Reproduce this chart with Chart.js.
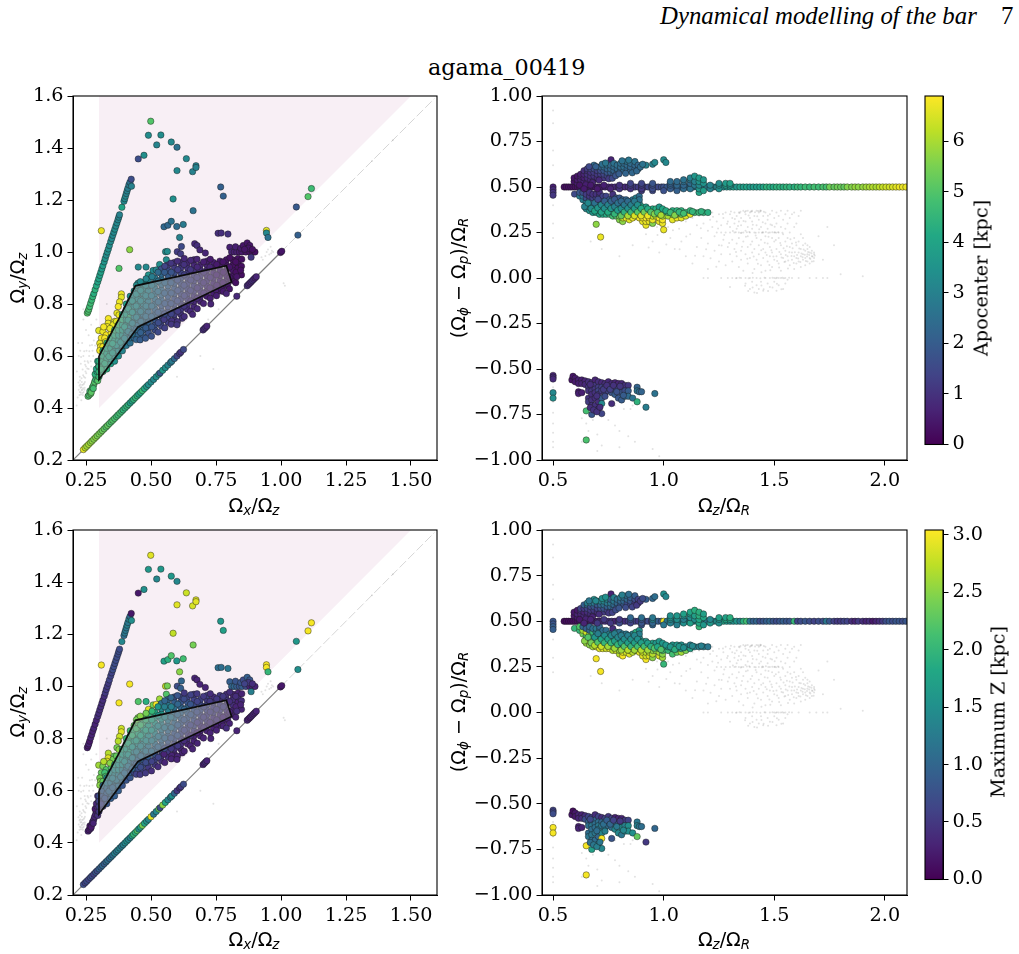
<!DOCTYPE html>
<html><head><meta charset="utf-8">
<title>agama_00419</title>
<script src="https://cdn.jsdelivr.net/npm/chart.js@4"></script>
<style>
html,body{margin:0;padding:0;background:#fff;width:1019px;height:954px;overflow:hidden}
canvas{position:absolute}
.t{position:absolute;white-space:nowrap;color:#000;line-height:1}
.m{font:19.2px "DejaVu Sans"}
.s{font:19.2px "DejaVu Serif"}
.m sub{font-size:70%;font-style:italic;line-height:0;vertical-align:-.28em}
.v{transform:translate(-50%,-50%) rotate(-90deg)}
.h{transform:translate(-50%,-50%)}
</style></head><body>
<div class="t" style="left:660px;top:2px;font:italic 24.8px 'Liberation Serif'">Dynamical modelling of the bar</div>
<div class="t" style="left:1001px;top:2px;font:24.8px 'Liberation Serif'">7</div>
<div class="t" style="left:428px;top:54px;font:22.3px 'DejaVu Serif'">agama_00419</div>
<canvas id="a" width="457" height="424" style="left:0;top:76px"></canvas>
<canvas id="b" width="447" height="424" style="left:470px;top:76px"></canvas>
<canvas id="cb1" width="114" height="384" style="left:905px;top:76px"></canvas>
<canvas id="c" width="457" height="425" style="left:0;top:510px"></canvas>
<canvas id="d" width="447" height="425" style="left:470px;top:510px"></canvas>
<canvas id="cb2" width="114" height="385" style="left:905px;top:510px"></canvas>
<div class="t m h" style="left:254px;top:505px">Ω<sub>x</sub>/Ω<sub>z</sub></div>
<div class="t m h" style="left:724px;top:505px">Ω<sub>z</sub>/Ω<sub>R</sub></div>
<div class="t m h" style="left:254px;top:939px">Ω<sub>x</sub>/Ω<sub>z</sub></div>
<div class="t m h" style="left:724px;top:939px">Ω<sub>z</sub>/Ω<sub>R</sub></div>
<div class="t m v" style="left:17px;top:278px">Ω<sub>y</sub>/Ω<sub>z</sub></div>
<div class="t m v" style="left:17px;top:712px">Ω<sub>y</sub>/Ω<sub>z</sub></div>
<div class="t m v" style="left:458px;top:278px">(Ω<sub>ϕ</sub> − Ω<sub>p</sub>)/Ω<sub>R</sub></div>
<div class="t m v" style="left:458px;top:712px">(Ω<sub>ϕ</sub> − Ω<sub>p</sub>)/Ω<sub>R</sub></div>
<div class="t s v" style="left:981px;top:278px">Apocenter [kpc]</div>
<div class="t s v" style="left:998px;top:712px">Maximum Z [kpc]</div>
<script>
// Tick positions
const leftXTicks=[.25,.5,.75,1,1.25,1.5];
const leftYTicks=[.2,.4,.6,.8,1,1.2,1.4,1.6];
const rightXTicks=[.5,1,1.5,2];
const rightYTicks=[-1,-.75,-.5,-.25,0,.25,.5,.75,1];
const apoTicks=[0,1,2,3,4,5,6];
const zmaxTicks=[0,.5,1,1.5,2,2.5,3];
const apoMax=6.89, zmaxMax=3.04;

// Resonance regions in the (x/z, y/z) plane
const wedge=[[.3,.4],[.3,1.6],[1.5,1.6]];
const barBox=[[.3,.6],[.375,.74],[.44,.87],[.79,.947],[.81,.885],[.45,.712],[.3,.51],[.3,.6]];
const diagDark=[[.2,.2],[1,1]];
const diagPale=[[1,1],[1.59,1.59]];

// Orbit families: [x, y, apocenter, zmax]
const steepOrbits=[[.255,.765,5,.25],[.258,.772,4.9,.2],[.261,.78,4.9,.3],[.264,.79,4.7,.2],[.268,.803,4.7,.3],[.272,.815,4.6,.3],[.276,.828,4.5,.3],[.28,.84,4.3,.3],[.285,.855,4.4,.3],[.29,.87,4.2,.3],[.295,.885,4,.4],[.299,.897,4,.4],[.303,.91,3.9,.4],[.307,.922,3.9,.4],[.311,.935,3.7,.4],[.315,.947,3.7,.4],[.32,.962,3.5,.4],[.324,.975,3.5,.5],[.328,.988,3.3,.5],[.332,1,3.4,.5],[.336,1.012,3.4,.5],[.34,1.025,3.3,.6],[.345,1.04,3.3,.6],[.349,1.052,3.2,.6],[.353,1.064,3.2,.7],[.357,1.076,3.2,.7],[.361,1.088,3.3,.7],[.365,1.1,3.2,.7],[.369,1.112,3.2,.7],[.373,1.124,3.1,.7],[.376,1.134,3.1,.7],[.379,1.143,3,.7],[.388,1.172,4,1.4],[.396,1.195,3.2,1.1],[.399,1.205,3.2,1.2],[.402,1.215,3.2,1.2],[.405,1.225,3,1.2],[.408,1.235,3,1.3],[.411,1.245,2.9,1.2],[.415,1.258,2.8,1.3],[.419,1.268,2.6,1.1],[.425,1.253,3,1.5],[.424,1.28,1.6,.2]];

// Orbits on the x = y diagonal: [x, apocenter, zmax]
const diagOrbits=[[.24,6.6,.7],[.247,6.2,.6],[.253,5.9,.7],[.26,6,.6],[.267,5.8,.7],[.273,5.7,.7],[.28,5.6,.6],[.287,5.7,.8],[.293,5.5,.7],[.3,5.5,.9],[.307,5.4,.9],[.313,5.3,1],[.32,5.2,.9],[.327,5,1],[.333,5.2,1.1],[.34,5,1],[.347,4.9,1.2],[.353,5,1.1],[.36,4.9,1.3],[.367,4.8,1.2],[.373,4.7,1.3],[.38,4.8,1.3],[.387,4.6,1.2],[.393,4.5,1.3],[.4,4.4,1.4],[.407,4.5,1.5],[.413,4.4,1.4],[.42,3.9,1.3],[.427,4,1.7],[.433,4.4,2],[.44,4.5,1.9],[.447,4.4,2.2],[.453,4,1.5],[.46,4.2,1.7],[.467,4.6,2.4],[.475,4.2,1.8],[.483,3.7,1.6],[.49,3.4,1.4],[.5,3.3,2.9],[.51,3.2,1.2],[.52,3.3,1.4],[.53,3.4,2.3],[.535,2,.7],[.545,3.6,2.5],[.555,3.3,1.8],[.565,3.1,1.4],[.575,2.6,1.2],[.58,2.8,1.5],[.59,2.3,1],[.6,1.4,.5],[.61,1.2,.4],[.615,1,.5],[.625,1.5,.7],[.7,.9,.3],[.705,.9,.3],[.71,.8,.4],[.715,.7,.3],[.83,.8,.3],[.87,.9,.3],[.875,.8,.3],[.88,.7,.2],[.885,.7,.3],[.89,.9,.3],[.895,.8,.3],[.9,.6,.3],[.905,.7,.3],[.998,.4,.2],[1.003,.4,.2],[1.065,2.1,1.5]];

const scatteredOrbits=[[.499,1.503,5,2.9],[.49,1.449,3.3,1.6],[.538,1.45,3.3,1.6],[.522,1.412,3.1,1.4],[.578,1.423,3.2,1.6],[.6,1.403,2.6,1.4],[.473,1.372,3.4,1.5],[.451,1.358,1.6,.2],[.636,1.359,3.2,2.8],[.6,1.313,3.2,2.9],[.66,1.309,3,2.85],[.673,1.332,3,2.9],[.673,1.325,3,2.9],[.768,1.25,2.1,1.6],[.778,1.215,2.1,1.7],[.585,1.204,3.4,2.75],[.662,1.159,2.6,2.4],[.309,1.082,6.7,3],[1.059,1.173,1.9,1.6],[1.104,1.213,5,3],[1.117,1.244,4.7,3],[.944,1.083,6.6,3],[.944,1.073,3.2,3],[.95,1.056,2.6,2],[.55,1.097,2.3,1.7],[.565,1.103,2.3,1.9],[.578,1.118,2.6,2.2],[.599,1.098,2.4,1.6],[.624,1.106,2.8,2.1],[.61,1.056,3,2.5],[.617,1.021,1.5,1],[.418,1.009,5.7,3],[.377,.937,5,3],[.556,1.001,3.3,2.8],[.563,1.002,3.3,2.4],[.601,1.001,1.2,.7],[.614,.993,1.2,.9],[.668,1.032,.8,.3],[.677,1.025,.9,.3],[.688,1.008,.8,.3],[.709,.996,.7,.3],[.758,1.072,.9,1.1],[.77,1.073,.9,1.1],[.796,1.069,1,1.2],[.803,1.018,.6,.9],[.81,1,.7,1],[.82,1,.6,1],[.83,1,.6,.9],[.84,1,.5,.8],[.85,1,.5,.9],[.865,1,.4,.7],[.88,1,.3,.3],[.89,1,.3,.3],[.9,1,.3,.3],[.825,1.02,.6,.8],[.845,1.015,.5,.8],[.855,1.025,.4,.7],[.87,1.035,.4,.9],[.88,1.025,.4,.8],[.875,1.015,.4,.5],[.86,1.01,.4,.6],[.89,1.01,.3,.4],[.885,.98,1.1,1.3],[.451,.942,3.2,2.2],[.481,.942,3.2,1.9],[.49,.912,3.5,2.9],[.533,.952,3.4,2.6],[.508,.929,3.2,2.4],[.52,.931,3.2,3],[.559,.97,3.3,2.2]];

const yellowOrbits=[[.386,.839,6.7,2.8],[.386,.826,6.6,2.9],[.379,.808,6.7,2.8],[.374,.79,6.8,2.7],[.369,.765,6.7,2.4],[.377,.758,6.7,2.5],[.36,.733,6.6,2.3],[.336,.744,6.8,2.7],[.335,.726,6.7,2.9],[.354,.72,6.7,2.4],[.331,.713,6.8,2.9],[.299,.698,6.6,2.6],[.315,.694,6.7,2.4],[.328,.681,6.8,2.2],[.309,.669,6.8,2.3],[.322,.669,6.8,2.1],[.303,.649,6.7,2.4],[.306,.636,6.8,2.5],[.315,.636,6.8,2.3],[.303,.621,6.8,2.5],[.347,.688,6.7,2.2],[.367,.733,6.6,2.3],[.342,.706,6.7,2.5],[.326,.655,6.7,2.2],[.318,.712,6.8,2.7]];

const tailOrbits=[[.258,.445,5,.3],[.262,.45,4.9,.2],[.268,.455,5.1,.3],[.265,.465,4.8,.2],[.272,.47,4.9,.3],[.275,.48,5,.3],[.27,.46,5.1,.2],[.28,.49,4.9,.3],[.283,.5,5,.3],[.278,.475,4.8,.3],[.287,.51,4.6,.3],[.29,.52,4.8,.3],[.285,.53,4.4,.2],[.292,.54,4.2,.3],[.295,.505,5,.4],[.29,.55,4,.3],[.298,.56,4.2,.4],[.295,.58,4,.4]];

// Bar-supporting cloud, listed column by column
const barOrbits=[[.3,.52,4.6,.5],[.3,.54,4.5,.5],[.3,.56,4.4,.6],[.3,.58,4.3,.7],
[.315,.54,4.4,.6],[.315,.56,4.5,.6],[.315,.58,4.4,.8],[.315,.6,4.3,.9],[.315,.62,4.4,1.1],
[.33,.55,4.3,.8],[.33,.57,4.2,.8],[.33,.59,4.2,.9],[.33,.61,4.1,1],[.33,.63,4.2,1.2],[.33,.65,4.4,1.4],
[.345,.57,3.9,.9],[.345,.59,3.9,1],[.345,.61,4,1],[.345,.63,4,1.2],[.345,.65,4.2,1.3],[.345,.67,4.4,1.5],
[.36,.58,3.5,.9],[.36,.6,3.6,1],[.36,.62,3.7,1.1],[.36,.64,3.8,1.2],[.36,.66,4,1.4],[.36,.68,4.3,1.5],[.36,.7,4.6,1.7],
[.375,.6,3.3,.9],[.375,.62,3.4,1.1],[.375,.64,3.6,1.2],[.375,.66,3.8,1.3],[.375,.68,3.9,1.5],[.375,.7,4.3,1.6],[.375,.72,4.6,1.8],
[.39,.62,3.1,.8],[.39,.64,3.2,1],[.39,.66,3.4,1.2],[.39,.68,3.6,1.3],[.39,.7,3.8,1.5],[.39,.72,4,1.6],[.39,.74,4.4,1.7],[.39,.76,4.2,1.9],
[.405,.64,2.7,.8],[.405,.66,2.9,1],[.405,.68,3.1,1.1],[.405,.7,3.4,1.3],[.405,.72,3.6,1.5],[.405,.74,3.8,1.6],[.405,.76,3.9,1.7],[.405,.78,3.8,1.9],[.405,.8,3.9,2],
[.42,.65,2.5,.8],[.42,.67,2.6,.9],[.42,.69,2.8,1.1],[.42,.71,3,1.2],[.42,.73,3.3,1.4],[.42,.75,4.5,1.8],[.42,.77,3.6,1.7],[.42,.79,3.6,1.8],[.42,.81,3.5,2],[.42,.83,3.4,2.1],
[.435,.67,2.3,.7],[.435,.69,2.5,.9],[.435,.71,2.6,1],[.435,.73,2.9,1.2],[.435,.75,3.1,1.4],[.435,.77,3.4,1.6],[.435,.79,3.3,1.7],[.435,.81,3.5,1.9],[.435,.83,3.4,2],[.435,.85,3.3,2.3],
[.45,.68,2.2,.7],[.45,.7,2.3,.9],[.45,.72,2.5,1],[.45,.74,2.7,1.2],[.45,.76,2.8,1.4],[.45,.78,3,1.5],[.45,.8,3.2,1.7],[.45,.82,3.3,1.9],[.45,.84,3.4,2],[.45,.86,3.4,2.2],[.45,.88,3.2,2.4],
[.47,.675,2,.6],[.47,.7,2.1,.7],[.47,.72,2.3,.9],[.47,.74,2.4,1.1],[.47,.76,2.6,1.3],[.47,.78,2.8,1.4],[.47,.8,3,1.6],[.47,.82,3.2,1.7],[.47,.84,3.2,1.8],[.47,.86,3.3,2],[.47,.88,3.3,2.3],
[.49,.69,1.8,.5],[.49,.71,1.9,.7],[.49,.73,2.1,.9],[.49,.75,2.3,1],[.49,.77,2.4,1.2],[.49,.79,2.7,1.4],[.49,.81,2.8,1.5],[.49,.83,2.9,1.6],[.49,.85,3,1.7],[.49,.87,3,1.8],[.49,.89,3.1,2],
[.515,.7,1.6,.5],[.515,.72,1.7,.6],[.515,.74,1.9,.8],[.515,.76,2.1,1],[.515,.78,2.2,1.1],[.515,.8,2.4,1.3],[.515,.82,2.5,1.4],[.515,.84,2.6,1.5],[.515,.86,2.7,1.6],[.515,.88,2.8,1.7],[.515,.9,2.7,1.8],
[.54,.715,1.4,.4],[.54,.735,1.5,.5],[.54,.755,1.6,.7],[.54,.775,1.8,.9],[.54,.795,1.9,1],[.54,.815,2.1,1.1],[.54,.835,2.2,1.2],[.54,.855,2.3,1.3],[.54,.875,2.4,1.5],[.54,.895,2.5,1.6],[.54,.915,2.3,1.4],[.54,.935,1.7,1.1],
[.565,.73,1.3,.4],[.565,.75,1.4,.5],[.565,.77,1.5,.6],[.565,.79,1.6,.8],[.565,.81,1.8,.9],[.565,.83,1.9,1],[.565,.85,2,1.1],[.565,.87,2.1,1.2],[.565,.89,2.1,1.3],[.565,.91,2,1.3],[.565,.93,1.6,1.2],[.565,.95,1.3,1],
[.59,.74,1.1,.3],[.59,.76,1.2,.4],[.59,.78,1.4,.6],[.59,.8,1.5,.7],[.59,.82,1.6,.8],[.59,.84,1.7,.9],[.59,.86,1.8,1],[.59,.88,1.8,1.1],[.59,.9,1.8,1.1],[.59,.92,1.6,1.1],[.59,.94,1.2,.9],[.59,.96,1,.7],
[.615,.76,1,.3],[.615,.78,1.1,.4],[.615,.8,1.2,.5],[.615,.82,1.3,.6],[.615,.84,1.4,.7],[.615,.86,1.5,.8],[.615,.88,1.5,.9],[.615,.9,1.5,1],[.615,.92,1.4,1],[.615,.94,1.1,.8],[.615,.96,.9,.6],
[.64,.78,.9,.3],[.64,.8,1,.4],[.64,.82,1.1,.5],[.64,.84,1.2,.6],[.64,.86,1.3,.7],[.64,.88,1.3,.8],[.64,.9,1.3,.9],[.64,.92,1.2,1],[.64,.94,1,.8],[.64,.96,.8,.6],
[.665,.79,.8,.3],[.665,.81,.8,.3],[.665,.83,1,.5],[.665,.85,1.1,.6],[.665,.87,1.2,.7],[.665,.89,1.2,.7],[.665,.91,1.1,.8],[.665,.93,1,.7],[.665,.95,.8,.6],[.665,.97,.7,.5],
[.69,.81,.7,.3],[.69,.83,.8,.3],[.69,.85,.9,.4],[.69,.87,1,.5],[.69,.89,1,.6],[.69,.91,1,.7],[.69,.93,.9,.7],[.69,.95,.7,.6],
[.715,.83,.6,.3],[.715,.85,.7,.4],[.715,.87,.8,.5],[.715,.89,.9,.5],[.715,.91,.8,.6],[.715,.93,.8,.6],[.715,.95,.7,.5],[.715,.965,.6,.6],
[.74,.84,.6,.3],[.74,.86,.6,.3],[.74,.88,.7,.4],[.74,.9,.7,.5],[.74,.92,.7,.5],[.74,.94,.6,.5],[.74,.96,.6,.4],
[.765,.85,.5,.3],[.765,.87,.6,.3],[.765,.89,.6,.4],[.765,.91,.6,.5],[.765,.93,.6,.5],[.765,.95,.5,.4],[.765,.965,.5,.5],
[.79,.87,.5,.3],[.79,.89,.5,.3],[.79,.91,.5,.4],[.79,.93,.5,.4],[.79,.95,.4,.5],[.79,.97,.4,.4],
[.815,.89,.4,.3],[.815,.91,.4,.3],[.815,.93,.4,.4],[.815,.95,.3,.4],[.815,.97,.3,.3],
[.835,.92,.3,.3],[.835,.94,.3,.3],[.835,.96,.3,.4],[.835,.975,.3,.3],[.75,.855,.6,.3],[.77,.86,.5,.3],[.795,.875,.5,.3],[.62,.745,1,.3],[.58,.735,1,.3],[.55,.74,1.2,.3]];

// Orbits sitting between those columns, mainly along the rims of the cloud
const barInfill=[[.308,.549,4.5,.6],[.322,.571,4.3,.8],[.338,.598,4.1,1],[.352,.612,3.8,1],[.367,.641,3.6,1.2],[.352,.648,4.1,1.3],[.383,.653,3.5,1.2],[.398,.668,3.2,1.1],[.398,.712,3.8,1.5],[.412,.694,3,1.2],[.412,.738,3.7,1.6],[.413,.782,3.8,1.9],[.427,.684,2.6,1],[.428,.726,3,1.3],[.428,.768,3.5,1.6],[.428,.812,3.5,2],[.443,.663,2.2,.6],[.443,.702,2.4,.9],[.444,.749,3,1.3],[.443,.792,3.3,1.7],[.443,.838,3.4,2.1],[.444,.872,3.3,2.4],[.458,.662,2,.5],[.46,.69,2.1,.7],[.461,.733,2.5,1.1],[.46,.771,2.9,1.4],[.46,.812,3.2,1.8],[.46,.852,3.3,2.1],[.459,.886,3.2,2.5],[.479,.668,1.9,.5],[.48,.708,2,.7],[.48,.752,2.5,1.2],[.481,.792,2.9,1.5],[.48,.832,3.1,1.8],[.48,.872,3.2,2],[.481,.897,3.1,2.4],[.502,.676,1.7,.4],[.503,.712,1.8,.6],[.502,.752,2.2,1.1],[.503,.792,2.5,1.3],[.502,.832,2.8,1.6],[.503,.872,2.9,1.8],[.504,.905,2.9,2],[.527,.692,1.5,.4],[.528,.728,1.6,.6],[.527,.768,2,1],[.528,.808,2.3,1.2],[.527,.848,2.5,1.4],[.528,.888,2.6,1.6],[.527,.922,2.4,1.6],[.553,.708,1.3,.3],[.552,.762,1.6,.7],[.553,.802,1.9,1],[.552,.842,2.1,1.2],[.553,.882,2.3,1.4],[.552,.922,2,1.3],[.553,.945,1.4,1],[.578,.722,1.1,.3],[.578,.762,1.4,.5],[.577,.802,1.7,.8],[.578,.842,1.9,1.1],[.577,.882,2,1.2],[.578,.922,1.8,1.3],[.577,.957,1.1,1],[.602,.732,1,.3],[.603,.772,1.2,.5],[.602,.812,1.5,.8],[.603,.852,1.6,.9],[.602,.892,1.6,1],[.603,.932,1.3,1],[.602,.965,.9,.8],[.628,.752,.9,.3],[.627,.792,1.1,.4],[.628,.832,1.3,.6],[.627,.872,1.4,.8],[.628,.912,1.3,1],[.627,.952,1,.7],[.628,.975,.8,.5],[.652,.772,.8,.3],[.653,.812,.9,.4],[.652,.852,1.2,.6],[.653,.892,1.2,.8],[.652,.932,1.1,.8],[.653,.968,.8,.6],[.678,.782,.8,.3],[.677,.822,.8,.3],[.678,.862,1,.5],[.677,.902,1.1,.7],[.678,.942,.8,.6],[.677,.972,.7,.5],[.702,.802,.7,.3],[.703,.842,.8,.4],[.702,.882,.9,.5],[.703,.922,.9,.6],[.702,.962,.6,.5],[.728,.822,.6,.3],[.727,.862,.7,.4],[.728,.902,.8,.5],[.727,.942,.7,.5],[.728,.972,.5,.4],[.752,.832,.6,.3],[.753,.872,.6,.4],[.752,.912,.6,.5],[.753,.952,.5,.5],[.778,.848,.5,.3],[.777,.882,.5,.3],[.778,.922,.5,.5],[.777,.962,.4,.5],[.802,.858,.4,.3],[.803,.902,.4,.3],[.802,.942,.4,.4],[.803,.978,.3,.4],[.826,.882,.3,.3],[.827,.922,.3,.3],[.826,.962,.3,.4],[.848,.912,.3,.3],[.848,.945,.3,.4],[.849,.972,.3,.3],[.83,.905,.4,.4],[.845,.93,.3,.3],[.79,.84,.7,.4],[.73,.8,.7,.3],[.66,.76,.8,.3],[.6,.72,1.1,.3]];

// Frequency-ratio plane: orbits at exactly 0.5, as [x, apocenter, zmax]
const plateauOrbits=[[.55,.3,.1],[.56,.3,.1],[.57,.3,.1],[.58,.3,.1],[.59,.3,.1],[.6,.3,.1],[.61,.3,.1],[.62,.3,.1],[.63,.4,.1],[.64,.3,.2],[.65,.3,.2],[.66,.4,.1],[.67,.4,.2],[.68,.4,.3],[.69,.4,.2],[.7,.5,.3],[.71,.5,.3],[.72,.5,.3],[.735,.6,.4],[.75,.7,.4],[.765,.7,.5],[.78,.8,.3],[.795,.8,.4],[.81,.9,.5],[.825,.8,.4],[.84,.9,.5],[.855,1,.7],[.87,1.2,.6],[.885,1.2,.5],[.9,1,.4],[.915,1.1,.5],[.93,1.4,.7],[.945,1.3,.5],[.96,1.4,.6],[.975,1.5,.9],[.99,1.6,.8],[1,1.7,3],[1.015,1.9,1.2],[1.03,1.8,1.4],[1.045,2,1.3],[1.06,2.1,1.2],[1.075,2.1,1.4],[1.09,2.3,1.2],[1.105,2.4,1.4],[1.12,2.4,1.2],[1.135,2.5,1.3],[1.15,2.8,1.5],[1.165,3,1.6],[1.18,2.9,1.3],[1.195,2.8,1.2],[1.21,2.7,1.2],[1.225,2.9,1.3],[1.24,3.1,1.5],[1.255,3,1.6],[1.27,3.2,1.8],[1.285,3.5,1.6],[1.3,3.7,1.5],[1.315,3.9,1.5],[1.33,3.6,1.6],[1.345,3.9,1.3],[1.36,3.8,1.9],[1.375,4,2.1],[1.39,3.7,1.2],[1.405,3.8,.9],[1.42,3.8,1],[1.435,3.9,.7],[1.45,4,.8],[1.465,4.4,.9],[1.48,4.3,1],[1.495,4.2,.8],[1.51,4.4,.7],[1.525,4.4,.8],[1.54,4.3,.9],[1.555,4.5,.8],[1.57,4.4,.8],[1.59,4.3,2],[1.605,4.6,.6],[1.62,4.5,.7],[1.64,4.7,.8],[1.66,4.6,.7],[1.68,4.8,.6],[1.7,4.7,.7],[1.72,4.9,.7],[1.735,4.8,1.2],[1.75,5.4,.8],[1.77,5.2,.6],[1.785,5.4,.5],[1.8,5.3,.5],[1.815,5.2,.6],[1.83,5.6,.6],[1.85,5.6,.4],[1.865,5.8,.3],[1.88,5.7,.5],[1.9,5.8,.4],[1.915,5.9,.3],[1.93,6,.4],[1.945,6.1,.2],[1.96,6,.3],[1.975,6.2,.4],[1.99,6.3,.5],[2.005,6.4,.7],[2.02,6.4,.8],[2.035,6.5,.7],[2.05,6.6,.8],[2.065,6.7,.8],[2.08,6.7,.7],[2.095,6.7,.8]];

// Frequency-ratio plane: [x, y, apocenter, zmax]
const thickOrbits=[[.5,.5,.6,.8],[.5,.485,.8,.8],[.5,.47,1,.9],[.5,.455,1.1,.9],[.62,.51,.4,.2],[.64,.49,.5,.3],[.67,.51,.5,.3],[.7,.49,.5,.5],[.73,.51,.6,.5],[.76,.49,.7,.5],
[.8,.49,1,.7],[.8,.51,1,.5],[.85,.49,1,.6],[.85,.51,1.2,.7],[.85,.52,1.4,1],[.9,.48,1.2,.8],[.9,.49,1.1,.8],[.9,.51,1.2,.8],[.9,.52,1.4,1.1],[.95,.48,1.5,1],[.95,.49,1.6,1],[.95,.51,1.6,1.3],[.95,.52,1.8,1.2],[1,.48,1.7,1.2],[1.03,.49,2,1.3],[1.03,.51,2.1,1.4],[1.03,.52,2.1,1.6],[1.03,.53,2.4,1.5],[1.06,.48,2.1,1.3],[1.06,.51,2.3,1.5],[1.06,.53,2.4,1.6],[1.09,.49,2.4,1.5],[1.09,.51,2.3,1.3],[1.09,.53,2.5,1.5],[1.09,.54,2.6,1.7],[1.12,.49,2.6,1.7],[1.12,.52,2.4,1.5],[1.12,.54,2.7,1.6],[1.12,.55,3,1.8],[1.14,.51,2.8,1.5],[1.14,.53,3,1.7],[1.14,.56,3.6,1.9],[1.16,.47,4,2],[1.16,.49,3.6,1.8],[1.16,.51,3.2,1.8],[1.16,.53,3.5,1.9],[1.16,.55,3.7,1.9],[1.18,.48,3.8,1.6],[1.18,.52,3.5,1.8],[1.18,.54,3.6,1.7],[1.21,.49,3,1.6],[1.21,.51,3.1,1.4],[1.25,.49,3.4,1.5],[1.25,.51,3.3,1.5],[1.25,.52,3.3,1.7],[1.28,.51,3.8,1.8],[1.28,.52,3.7,1.7],[1.3,.51,3.5,1.7],[1.3,.52,3.9,1.9]];

const upperOrbits=[[.595,.53,.4,.2],[.595,.55,.4,.2],[.61,.52,.5,.2],[.61,.54,.5,.3],[.61,.56,.4,.2],[.625,.52,.6,.3],[.625,.54,.6,.3],[.625,.56,.7,.4],[.625,.57,.6,.6],[.64,.53,.7,.4],[.64,.55,.6,.3],[.64,.57,.7,.5],[.64,.59,.9,.9],[.655,.53,.7,.3],[.655,.55,.8,.4],[.655,.57,1,.6],[.655,.59,1,1],[.655,.6,1.2,1.3],[.67,.54,.8,.4],[.67,.56,.9,.5],[.67,.58,1,.7],[.67,.6,1.4,1.2],[.685,.54,.9,.4],[.685,.56,1,.5],[.685,.58,1.2,.8],[.685,.6,1.5,1.2],[.685,.62,2.4,1.5],[.7,.55,.9,.4],[.7,.57,1.1,.6],[.7,.59,1.3,.8],[.7,.61,2,1.3],[.715,.55,1,.5],[.715,.57,1.2,.7],[.715,.59,1.6,1],[.715,.61,2.2,1.3],[.73,.55,1.1,.5],[.73,.57,1.4,.8],[.73,.59,1.9,1.1],[.73,.61,2.4,1.4],[.745,.56,1.4,.6],[.745,.58,1.8,.9],[.745,.6,2.2,1.2],[.745,.62,2.6,1.4],[.762,.65,.7,.3],[.76,.56,1.5,.7],[.76,.58,2,1],[.76,.6,2.3,1.2],[.76,.62,2.3,.9],[.775,.57,1.9,.9],[.775,.59,2.2,1],[.775,.61,2.4,1.2],[.775,.63,2.6,1.3],[.79,.58,2.1,.9],[.79,.6,2.3,1],[.79,.62,2.5,1.1],[.805,.59,2.2,.8],[.805,.61,2.4,1],[.805,.63,2.5,1.2],[.82,.59,2.3,.8],[.82,.61,2.5,1],[.82,.63,2.4,1.1],[.835,.6,2.3,.7],[.835,.62,2.4,1],[.835,.64,2.6,1.1],[.85,.59,2.2,.6],[.85,.61,2.3,.8],[.85,.63,2.4,.9],[.87,.6,2.2,.5],[.87,.62,2.3,.7],[.87,.64,2.6,.9],[.885,.6,2.4,.4],[.885,.62,2.3,.6],[.92,.62,3,.9],[.95,.625,3,1],[.96,.635,3.2,1.1],[1,.65,3.3,1.5],[1.01,.635,3.2,1.4],
[.648,.512,.6,.3],[.663,.612,1.5,1.2],[.678,.524,.7,.3],[.693,.612,2.1,1.4],[.708,.538,.8,.4],[.722,.625,2.5,1.5],[.737,.632,2.7,1.5],[.752,.545,1.2,.5],[.768,.548,1.5,.6],[.783,.562,1.8,.7],[.798,.572,2,.8],[.812,.644,2.6,1.3],[.828,.575,2.2,.7],[.842,.648,2.7,1.1],[.858,.578,2.3,.6],[.878,.588,2.3,.5],[.895,.61,2.4,.5],[.905,.625,2.6,.7]];

const lowerOrbits=[[.597,.461,1.5,2],[.62,.45,2.8,2],[.62,.47,1.8,2.2],[.635,.43,2.9,2.4],[.635,.45,2.5,2.6],[.635,.47,1.6,1],[.65,.38,3.2,2.6],[.65,.4,3,2.4],[.65,.42,2.9,2.1],[.65,.44,1.6,2.8],[.65,.46,1.2,.9],[.665,.37,3.5,2.5],[.665,.39,3.4,2.8],[.665,.41,3,2],[.665,.43,1.5,2.7],[.665,.45,1.1,1],[.665,.47,1,1],[.68,.36,3.6,2.6],[.68,.38,3.4,2.3],[.68,.4,3.2,2.4],[.68,.42,2,1.5],[.68,.44,1.3,2],[.68,.46,1,1.1],[.695,.36,3.8,2.8],[.695,.38,3.4,2.2],[.695,.4,3.2,1.9],[.695,.42,2.4,1.7],[.695,.44,1.3,1.3],[.695,.46,1,1.2],[.71,.35,4,2.9],[.71,.37,3.6,2.6],[.71,.39,3.3,2.1],[.71,.41,3,1.8],[.71,.43,1.6,1.3],[.71,.45,1.1,1.2],[.71,.47,.9,1],[.725,.35,4.1,2.9],[.725,.37,3.7,2.5],[.725,.39,3.3,2.1],[.725,.41,2.8,1.6],[.725,.43,1.8,1.4],[.725,.45,1.3,1.1],[.74,.35,4.2,2.8],[.74,.37,3.8,2.3],[.74,.39,3.3,2],[.74,.41,2.8,1.7],[.74,.43,2,1.4],[.74,.45,1.4,1.1],[.755,.35,4.4,2.9],[.755,.37,3.9,2.2],[.755,.39,3.4,1.9],[.755,.41,2.6,1.6],[.755,.43,1.9,1.3],[.77,.34,4.8,2.7],[.77,.36,4.1,2.4],[.77,.38,3.6,2],[.77,.4,2.8,1.7],[.77,.42,2.2,1.4],[.77,.44,1.7,1.2],[.77,.46,1,.4],[.785,.34,5,2.8],[.785,.36,4.2,2.4],[.785,.38,3.4,1.9],[.785,.4,3,1.6],[.785,.42,2.4,1.4],[.785,.44,1.8,1.2],[.8,.32,5.6,2.7],[.8,.34,5.4,2.6],[.8,.36,4.3,2.3],[.8,.38,3.8,1.9],[.8,.4,2.9,1.6],[.8,.42,2.4,1.3],[.8,.44,1.9,1.1],[.815,.31,5.7,3],[.815,.33,6.2,2.9],[.815,.35,5,2.4],[.815,.37,3.9,2],[.815,.39,3.2,1.6],[.815,.41,2.5,1.4],[.815,.43,2.1,1.2],[.83,.33,6.7,2.8],[.83,.35,5.2,2.5],[.83,.37,4,2],[.83,.39,3.2,1.7],[.83,.41,2.6,1.4],[.83,.43,2.2,1.2],[.845,.32,6.6,2.9],[.845,.34,6.4,2.7],[.845,.36,4.8,2.2],[.845,.38,3.6,1.7],[.845,.4,2.7,1.4],[.845,.42,2.3,1.3],[.86,.33,6.7,2.7],[.86,.35,5.6,2.3],[.86,.37,4.4,1.9],[.86,.39,3.4,1.7],[.86,.41,2.8,1.4],[.86,.43,2.6,1.3],[.875,.34,6.5,2.6],[.875,.36,5.2,2],[.875,.38,4.3,1.8],[.875,.4,3.3,1.6],[.875,.42,2.9,1.4],[.875,.44,3,1.9],[.89,.33,6.8,2.9],[.89,.35,6.5,2.6],[.89,.37,5,2],[.89,.39,3.6,1.7],[.89,.41,3.2,1.5],[.89,.45,2.4,1.5],[.89,.43,2.6,1.3],[.905,.31,6.7,2.9],[.905,.33,6.8,2.8],[.905,.35,6.2,2.5],[.905,.37,4.8,2.1],[.905,.39,4.2,1.6],[.92,.29,6.7,3],[.92,.31,6.7,2.8],[.92,.33,6.8,2.7],[.92,.35,6,2.4],[.92,.37,4.9,1.9],[.92,.39,3.8,1.6],[.935,.31,6.7,2.9],[.935,.33,6.8,2.7],[.935,.35,5.8,2.4],[.935,.37,4.8,1.8],[.95,.3,5.6,2.5],[.95,.32,6.7,2.7],[.95,.34,6.3,2.5],[.95,.36,5,1.9],[.95,.38,4.2,1.7],[.965,.34,6.2,2.5],[.965,.36,5,1.9],[.965,.38,4.3,1.6],[.98,.31,6.7,2.9],[.98,.33,6.8,2.6],[.98,.35,5.6,2.2],[.98,.37,4.7,1.7],[.98,.39,3.7,1.6],[.995,.3,6.7,2.6],[.995,.32,6.8,2.5],[.995,.34,6,2.1],[.995,.36,5,1.8],[.995,.38,4.1,1.6],[1,.265,6.7,2],[1.02,.34,6,2],[1.02,.36,4.9,1.7],[1.04,.32,6.6,2.1],[1.04,.35,5.4,1.8],[1.04,.37,4.3,1.6],[1.06,.33,6.7,2.3],[1.06,.35,5.2,1.8],[1.06,.37,4.4,1.6],[1.08,.33,6.6,2.6],[1.08,.35,5.2,1.7],[1.08,.37,4.4,1.5],[1.1,.34,6.5,2.4],[1.1,.36,4.6,1.4],[1.12,.35,6.6,1.7],[1.12,.37,4.5,1.3],[1.14,.36,4.7,1.4],[1.16,.36,4.6,1.3],[1.18,.36,4.5,1.3],[1.2,.36,4.3,1.2],[.695,.295,5.7,3],[.715,.225,6.7,3],
[.642,.392,3,2.5],[.658,.412,3.2,2.2],[.672,.382,3.3,2.4],[.688,.368,4,2.7],[.688,.412,2.6,1.6],[.702,.385,3.6,2.2],[.703,.432,1.5,1.3],[.718,.362,4,2.8],[.718,.402,3.2,1.8],[.732,.382,3.4,2],[.733,.422,2.1,1.5],[.748,.362,4.2,2.6],[.748,.402,3,1.7],[.762,.382,3.5,2],[.763,.422,2.2,1.4],[.778,.352,4.5,2.6],[.778,.392,3,1.7],[.778,.432,1.9,1.3],[.792,.372,3.7,2],[.793,.412,2.6,1.4],[.808,.342,5.2,2.6],[.808,.382,3.3,1.7],[.808,.422,2.3,1.3],[.822,.362,4.4,2.2],[.822,.402,2.8,1.5],[.838,.342,6,2.7],[.838,.382,3.4,1.7],[.838,.422,2.4,1.3],[.852,.362,4.6,2],[.852,.402,3,1.5],[.868,.342,6.5,2.6],[.868,.382,3.8,1.7],[.868,.422,2.8,1.4],[.882,.362,5,2.1],[.882,.402,3.4,1.5],[.898,.342,6.6,2.7],[.898,.382,4.2,1.7],[.912,.362,5.4,2.1],[.928,.342,6.7,2.6],[.928,.38,4.2,1.7],[.942,.362,5,1.9],[.958,.352,5.6,2.2],[.972,.36,4.8,1.8],[.988,.345,6,2.2],[1.01,.37,4.2,1.6],[1.03,.36,4.6,1.6],[1.05,.345,5.6,1.9],[1.07,.362,4.5,1.6],[1.09,.355,4.8,1.5],[1.13,.365,4.5,1.4],[1.17,.365,4.4,1.3]];

const clusterOrbits=[[.5,-.535,.7,.6],[.5,-.545,.8,.6],[.5,-.555,.8,.7],[.5,-.63,3.2,3],[.5,-.66,3.4,3],[.585,-.56,.4,.2],[.59,-.54,.4,.1],[.6,-.55,.5,.2],[.6,-.57,.5,.2],[.615,-.56,.6,.3],[.615,-.58,.6,.3],[.615,-.625,.5,.3],[.615,-.635,.6,.3],[.63,-.56,.6,.3],[.63,-.58,.7,.4],[.63,-.63,.6,.3],[.645,-.565,.7,.4],[.645,-.585,.8,.7],[.66,-.57,.9,.6],[.66,-.6,1.1,1],[.66,-.62,1,1.1],[.66,-.66,1,1.1],[.66,-.68,1.2,1.2],[.675,-.575,.9,.6],[.675,-.6,1.2,1.1],[.675,-.62,1.1,1.2],[.675,-.64,.9,1.1],[.675,-.67,1,1.2],[.675,-.7,1,1.1],[.675,-.75,1.8,1.7],[.69,-.56,.7,.4],[.69,-.59,1.1,1],[.69,-.61,1.1,1.1],[.69,-.63,1,1.1],[.69,-.66,.9,1.2],[.69,-.7,1,1.1],[.705,-.57,.9,.6],[.705,-.6,1.2,1.1],[.705,-.62,1.4,1.2],[.705,-.64,1.1,1.2],[.705,-.68,.9,1],[.705,-.72,.8,1.2],[.72,-.575,.8,.4],[.72,-.6,1.3,1],[.72,-.62,1.2,1.2],[.72,-.66,2,1.4],[.72,-.69,3.2,3],[.72,-.745,1.4,1.4],[.735,-.58,.9,.6],[.735,-.6,1.3,1.1],[.735,-.63,1.2,1.2],[.735,-.65,1.6,1.3],[.75,-.57,.8,.5],[.75,-.6,1.4,.9],[.75,-.62,1.4,1.1],[.765,-.58,.8,.6],[.765,-.6,1.3,.9],[.765,-.63,1.8,1.1],[.765,-.69,.9,.8],[.78,-.575,.7,.3],[.78,-.6,1.3,.9],[.78,-.64,2,1.4],[.795,-.58,.7,.3],[.795,-.61,1.4,.8],[.795,-.66,1.9,1.4],[.81,-.58,.8,.3],[.81,-.6,1.3,.8],[.81,-.63,1.8,1.5],[.81,-.67,2,1.2],[.825,-.59,1,.5],[.825,-.62,1.6,1.3],[.825,-.65,2.4,1.4],[.84,-.59,1.1,.6],[.84,-.62,2,1.5],[.84,-.65,2.4,1.5],[.86,-.66,2.6,1.5],[.88,-.6,2.2,1.2],[.88,-.62,2.6,1.3],[.88,-.68,4.4,2.3],[.89,-.625,2.4,1.2],[.9,-.625,2.2,1.1],[.92,-.71,2.9,.5],[.96,-.635,2.6,1],[.65,-.73,4.8,3],[.65,-.89,4.9,3],
[.668,-.712,.9,1.1],[.683,-.725,1,1.2],[.698,-.735,1,1.3],[.712,-.71,.9,1.2],[.668,-.585,.9,.7],[.698,-.648,1,1.1],[.728,-.612,1.2,1.1],[.743,-.59,1,.9],[.758,-.612,1.3,1],[.773,-.59,1,.6],[.788,-.625,1.7,1.2],[.803,-.595,1.1,.5],[.818,-.645,2,1.4]];

// Non-resonant orbits seen as pale background specks
const pairHazeLeft=[[.214,.41],[.218,.44],[.222,.47],[.225,.45],[.228,.49],[.23,.46],[.232,.48],[.234,.5],[.236,.47],[.238,.45],[.24,.49],[.242,.52],[.244,.47],[.246,.5],[.248,.54],[.226,.52],[.23,.57],[.222,.6],[.228,.62],[.235,.65],[.24,.6],[.245,.58],[.25,.56],[.252,.62],[.256,.58],[.26,.55],[.262,.6],[.265,.64],[.268,.58],[.27,.56],[.275,.62],[.278,.6],[.28,.66],[.285,.64],[.26,.68],[.25,.7],[.24,.74],[.27,.72],[.29,.74],[.24,.78],[.33,.8],[.215,.54],[.22,.65],[.232,.43],[.94,.985],[.945,1],[.95,1.01],[.955,.99],[.96,1.02],[.965,1.005],[.97,1],[.93,.97],[.925,.98],[.962,.995],[1.015,.87],[1.01,.88],[.74,.55],[.69,.6],[.6,.52],[.72,.74],[.76,.78],[1.35,1.35],[1.43,1.43],
[.226,.462],[.229,.478],[.231,.452],[.233,.468],[.235,.488],[.237,.458],[.239,.476],[.241,.462],[.243,.494],[.245,.478],[.227,.506],[.233,.514],[.239,.526],[.247,.516],[.251,.534],[.225,.486],[.221,.498],[.255,.552],[.247,.566],[.259,.574],[.237,.548],[.231,.596],[.243,.618],[.263,.618],[.273,.642]];
const pairHazeRight=[[.5,.92],[.5,.85],[.5,.7],[.5,.62],[.5,.4],[.5,.3],[.5,.22],[.5,-.6],[.5,-.68],[.5,-.74],[.5,-.8],[.5,-.85],[.5,-.9],[.5,-.93],[.67,.2],[.72,.16],[.8,.12],[.86,.18],[.92,.24],[.95,.2],[.97,.28],[.98,.14],[1.02,.28],[1.03,.22],[1.05,.16],[1.07,.27],[1.08,.2],[1.1,.31],[1.1,.12],[1.12,.24],[1.13,.33],[1.13,.08],[1.15,.29],[1.15,.17],[1.16,.34],[1.17,.22],[1.18,.3],[1.18,.12],[1.2,.35],[1.2,.26],[1.2,.19],[1.2,.05],[1.21,.32],[1.22,.28],[1.22,.36],[1.23,.15],[1.23,.23],[1.24,.31],[1.24,.25],[1.25,.35],[1.25,.09],[1.25,.18],[1.26,.25],[1.26,.29],[1.26,.13],[1.27,.33],[1.27,.21],[1.28,.36],[1.28,.25],[1.28,.07],[1.29,.31],[1.29,.17],[1.3,.35],[1.3,.28],[1.3,.25],[1.3,.13],[1.3,-.05],[1.31,.33],[1.31,.21],[1.31,.09],[1.32,.36],[1.32,.3],[1.32,.25],[1.32,.16],[1.33,.34],[1.33,.27],[1.33,.12],[1.33,.19],[1.34,.36],[1.34,.31],[1.34,.25],[1.34,.22],[1.34,.06],[1.35,.33],[1.35,.29],[1.35,.15],[1.35,.1],[1.36,.37],[1.36,.25],[1.36,.2],[1.36,.04],[1.37,.35],[1.37,.31],[1.37,.26],[1.37,.13],[1.37,-.03],[1.38,.37],[1.38,.28],[1.38,.23],[1.38,.17],[1.38,.08],[1.39,.36],[1.39,.33],[1.39,.25],[1.39,.11],[1.39,-.06],[1.4,.37],[1.4,.31],[1.4,.27],[1.4,.2],[1.4,.14],[1.4,-.02],[1.41,.34],[1.41,.25],[1.41,.16],[1.41,.05],[1.41,-.08],[1.42,.37],[1.42,.29],[1.42,.22],[1.42,.1],[1.42,-.04],[1.43,.36],[1.43,.32],[1.43,.25],[1.43,.18],[1.43,.13],[1.43,-.06],[1.44,.37],[1.44,.28],[1.44,.21],[1.44,.07],[1.44,-.02],[1.45,.34],[1.45,.25],[1.45,.16],[1.45,.11],[1.45,-.07],[1.46,.36],[1.46,.3],[1.46,.23],[1.46,.14],[1.46,.04],[1.47,.32],[1.47,.27],[1.47,.19],[1.47,.09],[1.47,-.03],[1.48,.35],[1.48,.25],[1.48,.17],[1.48,.12],[1.48,-.05],[1.49,.37],[1.49,.29],[1.49,.22],[1.49,.14],[1.49,.06],[1.5,.33],[1.5,.25],[1.5,.2],[1.5,.1],[1.5,-.02],[1.51,.36],[1.51,.3],[1.51,.16],[1.51,.12],[1.51,-.07],[1.52,.34],[1.52,.25],[1.52,.22],[1.52,.08],[1.52,-.04],[1.53,.37],[1.53,.28],[1.53,.18],[1.53,.13],[1.53,.04],[1.54,.32],[1.54,.24],[1.54,.11],[1.54,-.06],[1.55,.35],[1.55,.27],[1.55,.2],[1.55,.15],[1.55,.09],[1.55,-.03],[1.56,.37],[1.56,.3],[1.56,.22],[1.56,.12],[1.56,-.01],[1.57,.33],[1.57,.25],[1.57,.17],[1.57,.07],[1.58,.35],[1.58,.19],[1.58,.14],[1.58,.1],[1.59,.36],[1.59,.28],[1.59,.22],[1.59,.12],[1.59,.05],[1.6,.3],[1.6,.18],[1.6,.11],[1.6,.08],[1.61,.34],[1.61,.2],[1.61,.14],[1.61,.09],[1.62,.37],[1.62,.24],[1.62,.16],[1.62,.12],[1.62,.06],[1.63,.22],[1.63,.18],[1.63,.1],[1.63,.13],[1.64,.19],[1.64,.15],[1.64,.11],[1.64,.07],[1.65,.18],[1.65,.13],[1.65,.09],[1.65,.16],[1.66,.14],[1.66,.11],[1.66,.08],[1.66,.17],[1.67,.15],[1.67,.12],[1.67,.09],[1.68,.14],[1.68,.11],[1.68,.13],[1.7,.23],[1.72,.1],[1.74,.28],[1.77,.18],[1.8,.02],[1.9,.01],
[1.18,0],[1.2,0],[1.26,0],[1.29,0],[1.31,0],[1.33,0],[1.35,0],[1.37,0],[1.39,0],[1.42,0],[1.46,0],[1.48,0],[1.5,0],[1.52,0],[1.53,0],[1.55,0],[1.58,0],[1.61,0],[1.66,0],[1.69,0],[1.72,0],[1.74,0],
[.63,-.77],[.65,-.8],[.66,-.84],[.68,-.78],[.7,-.86],[.72,-.76],[.72,-.92],[.75,-.78],[.78,-.81],[.8,-.84],[.82,-.72],[.85,-.72],[.87,-.9],[.84,-.87],[.95,-.94],[.98,-.98],[.7,-.95],[.63,-.9],[.8,-.93],[.78,-.7],[.86,-.7],
[1.223,.337],[1.246,.272],[1.268,.351],[1.274,.236],[1.287,.298],[1.296,.192],[1.304,.366],[1.313,.258],[1.322,.324],[1.327,.143],[1.336,.286],[1.343,.357],[1.349,.247],[1.354,.172],[1.361,.313],[1.367,.363],[1.372,.226],[1.378,.106],[1.384,.343],[1.387,.253],[1.393,.184],[1.398,.366],[1.403,.293],[1.407,.118],[1.413,.361],[1.416,.233],[1.423,.339],[1.426,.078],[1.432,.268],[1.436,.366],[1.441,.152],[1.444,.248],[1.448,.306],[1.453,.364],[1.457,.193],[1.462,.253],[1.466,.127],[1.471,.342],[1.474,.227],[1.478,.071],[1.483,.294],[1.487,.153],[1.491,.251],[1.496,.118],[1.502,.281],[1.507,.209],[1.513,.093],[1.517,.252],[1.523,.143],[1.527,.192],[1.533,.112],[1.537,.248],[1.542,.164],[1.546,.088],[1.552,.126],[1.557,.174],[1.563,.096],[1.568,.142],[1.573,.213],[1.578,.121],[1.583,.164],[1.588,.083],[1.593,.142],[1.598,.195],[1.603,.126],[1.608,.107],[1.613,.162],[1.618,.088],[1.623,.134],[1.628,.114],[1.633,.156],[1.638,.128],[1.643,.094],[1.648,.118],[1.653,.143],[1.658,.126],[1.663,.104],[1.668,.136],[1.673,.118],[1.678,.092],[1.683,.123],
[1.327,-.002],[1.343,.001],[1.384,-.001],[1.403,.002],[1.437,-.001],[1.456,.001],[1.492,.002],[1.507,-.002],[1.512,.001],[1.537,.001],[1.543,-.002],[1.567,.002],[1.326,.251],[1.352,.249],[1.376,.252],[1.416,.248],[1.447,.252],[1.473,.249],[1.503,.251],[1.508,.248],[1.394,.366],[1.427,.368],[1.437,.371],[1.347,.364],[1.372,.368],
[1.368,-.042],[1.382,-.072],[1.402,-.052],[1.422,-.082],[1.442,-.041],[1.452,-.062],[1.472,-.072],[1.492,-.052],[1.512,-.032],[1.532,-.062],[1.402,.028],[1.442,.032],[1.482,.042],[1.522,.058],[1.562,.052],[.932,.168],[.972,.236],[1.012,.184],[1.042,.262],[1.072,.158],[1.102,.228],[1.142,.122],[1.168,.274],[1.192,.158],[1.212,.108],[1.238,.062],[1.262,.178]];

const viridisStops=['#440154','#482475','#414487','#355f8d','#2a788e','#21918c','#22a884','#44bf70','#7ad151','#bddf26','#fde725'];
const rgb=viridisStops.map(h=>[1,3,5].map(i=>parseInt(h.slice(i,i+2),16)));
function viridis(t){
  t=Math.min(1,Math.max(0,t))*10;
  const i=Math.min(9,Math.floor(t)),f=t-i;
  const c=rgb[i].map((v,k)=>Math.round(v+(rgb[i+1][k]-v)*f));
  return `rgb(${c})`;
}

const frame={id:'frame',afterDraw(chart,_,opts){
  const {ctx,chartArea:a}=chart;
  ctx.save();ctx.strokeStyle=opts.color||'#000';ctx.lineWidth=1.1;
  ctx.strokeRect(a.left,a.top,a.right-a.left,a.bottom-a.top);ctx.restore();
}};

const tickFont={family:'"DejaVu Serif"',size:19.2};
function axis(cfg){
  return {type:'linear',min:cfg.min,max:cfg.max,position:cfg.position,
    grid:{drawOnChartArea:false,color:'#000',lineWidth:1,tickLength:5.5,drawTicks:true},
    border:{color:'#000',width:1},
    afterBuildTicks(s){s.ticks=cfg.ticks.map(value=>({value}))},
    afterFit(s){if(cfg.width)s.width=cfg.width;if(cfg.height)s.height=cfg.height},
    ticks:{font:tickFont,color:'#000',padding:cfg.pad,maxRotation:0,minRotation:0,autoSkip:false,
      callback:v=>(v<0?'\u2212':'')+Math.abs(v).toFixed(cfg.digits)}};
}
function marks(rows,idx,max,order){
  return {type:'scatter',order,data:rows.map(r=>({x:r[0],y:r[1]})),
    pointBackgroundColor:rows.map(r=>viridis(r[idx]/max)),
    pointBorderColor:'rgba(25,25,25,.8)',pointBorderWidth:.55,pointRadius:3.2,pointHoverRadius:3.2};
}
function pts(list){return list.map(p=>({x:p[0],y:p[1]}))}
function haze(list,order){
  return {type:'scatter',order,data:pts(list),pointRadius:1,pointBorderWidth:0,pointBackgroundColor:'rgba(110,110,110,.2)'};
}
function leftChart(id,col,max){
  const orbits=[...steepOrbits,...yellowOrbits,...tailOrbits,...scatteredOrbits,...barOrbits,...barInfill,
    ...diagOrbits.map(r=>[r[0],r[0],r[1],r[2]])];
  return new Chart(document.getElementById(id),{type:'scatter',
    data:{datasets:[
      {order:0,data:pts(barBox),showLine:true,fill:'shape',backgroundColor:'rgba(170,170,170,.45)',borderColor:'#0c0c0c',borderWidth:1.7,pointRadius:0,tension:0},
      marks(orbits,col,max,1),
      {order:2,data:pts(diagDark),showLine:true,borderColor:'rgba(60,60,60,.65)',borderWidth:1.2,pointRadius:0},
      {order:3,data:pts(diagPale),showLine:true,borderColor:'rgba(120,120,120,.3)',borderWidth:1,borderDash:[9,3],pointRadius:0},
      haze(pairHazeLeft,4),
      {order:5,data:pts(wedge),showLine:true,fill:'shape',backgroundColor:'#f8eff5',borderWidth:0,pointRadius:0,tension:0}
    ]},
    options:baseOpts(
      axis({min:.2,max:1.6,ticks:leftXTicks,digits:2,height:40,pad:4,position:'bottom'}),
      axis({min:.2,max:1.6,ticks:leftYTicks,digits:1,width:73,pad:4,position:'left'}),
      {top:20,right:20,bottom:0,left:0}),
    plugins:[frame]});
}
function rightChart(id,col,max){
  const orbits=[...plateauOrbits.map(r=>[r[0],.5,r[1],r[2]]),...lowerOrbits,...upperOrbits,...thickOrbits,...clusterOrbits];
  return new Chart(document.getElementById(id),{type:'scatter',
    data:{datasets:[marks(orbits,col,max,0),haze(pairHazeRight,1)]},
    options:baseOpts(
      axis({min:.45,max:2.1,ticks:rightXTicks,digits:1,height:40,pad:4,position:'bottom'}),
      axis({min:-1,max:1,ticks:rightYTicks,digits:2,width:72,pad:4,position:'left'}),
      {top:20,right:10,bottom:0,left:0}),
    plugins:[frame]});
}
function baseOpts(x,y,padding){
  return {responsive:false,animation:false,devicePixelRatio:1,events:[],layout:{padding},
    plugins:{legend:{display:false},tooltip:{enabled:false},frame:{color:'#000'}},scales:{x,y}};
}
function colorbar(id,max,ticks,digits,bottom){
  return new Chart(document.getElementById(id),{type:'bar',
    data:{labels:[''],datasets:[{data:[[0,max]],barPercentage:1,categoryPercentage:1,borderWidth:0,
      backgroundColor(c){
        const a=c.chart.chartArea;if(!a)return '#21918c';
        const g=c.chart.ctx.createLinearGradient(0,a.bottom,0,a.top);
        viridisStops.forEach((s,i)=>g.addColorStop(i/10,s));
        return g;
      }}]},
    options:{responsive:false,animation:false,devicePixelRatio:1,events:[],
      layout:{padding:{top:20,right:0,bottom,left:20}},
      plugins:{legend:{display:false},tooltip:{enabled:false},frame:{color:'#000'}},
      scales:{x:{display:false},y:axis({min:0,max,ticks,digits,width:76,pad:4,position:'right'})}},
    plugins:[frame]});
}
leftChart('a',2,apoMax);
rightChart('b',2,apoMax);
colorbar('cb1',apoMax,apoTicks,0,0);
leftChart('c',3,zmaxMax);
rightChart('d',3,zmaxMax);
colorbar('cb2',zmaxMax,zmaxTicks,1,0);
</script>
</body></html>
